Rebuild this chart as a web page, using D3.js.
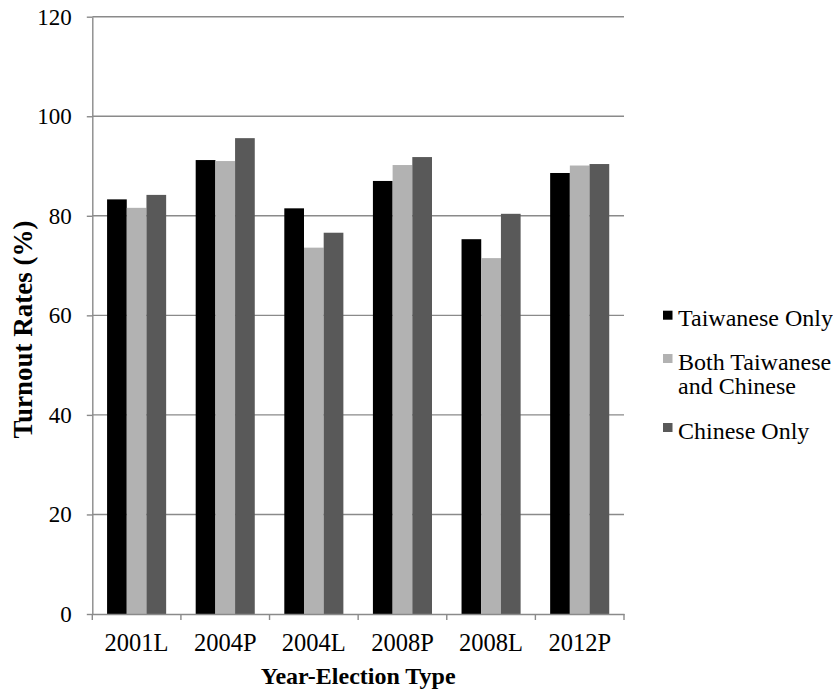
<!DOCTYPE html>
<html>
<head>
<meta charset="utf-8">
<script src="https://cdn.jsdelivr.net/npm/d3@7"></script>
<style>
  html, body { margin: 0; padding: 0; background: #ffffff; }
  svg { display: block; }
  text { font-family: "Liberation Serif", "Times New Roman", serif; fill: #000; }
</style>
</head>
<body>
<svg id="chart" width="833" height="689"></svg>
<script>
const categories = ["2001L", "2004P", "2004L", "2008P", "2008L", "2012P"];
const seriesNames = ["Taiwanese Only", "Both Taiwanese and Chinese", "Chinese Only"];
const taiwaneseOnly = [83.3, 91.2, 81.5, 87.0, 75.3, 88.6];
const bothTaiwaneseChinese = [81.6, 91.0, 73.6, 90.2, 71.5, 90.1];
const chineseOnly = [84.2, 95.6, 76.6, 91.8, 80.4, 90.4];
const yTicks = [0, 20, 40, 60, 80, 100, 120];
const colors = ["#000000", "#b2b2b2", "#595959"];
const legendLines = [["Taiwanese Only"], ["Both Taiwanese", "and Chinese"], ["Chinese Only"]];

const seriesValues = [taiwaneseOnly, bothTaiwaneseChinese, chineseOnly];

const svg = d3.select("#chart");
const mLeft = 92.3, mRight = 624, mTop = 16.7, mBottom = 614;
const axisColor = "#8a8a8a";

const y = d3.scaleLinear().domain([0, 120]).range([mBottom, mTop]);
const x0 = d3.scaleBand().domain(categories).range([mLeft, mRight]).padding(0);
const x1 = d3.scaleBand().domain(d3.range(seriesNames.length)).range([0, x0.bandwidth()]).paddingInner(0).paddingOuter(0.75);

// gridlines
svg.append("g").selectAll("line").data(yTicks.filter(d => d > 0)).join("line")
  .attr("x1", mLeft).attr("x2", mRight)
  .attr("y1", d => y(d)).attr("y2", d => y(d))
  .attr("stroke", axisColor).attr("stroke-width", 1.4);

// bars
const groups = svg.append("g").selectAll("g").data(categories).join("g")
  .attr("transform", d => `translate(${x0(d)},0)`);
groups.selectAll("rect").data((c, ci) => seriesValues.map((vals, si) => ({si, v: vals[ci]}))).join("rect")
  .attr("x", d => x1(d.si))
  .attr("width", x1.bandwidth())
  .attr("y", d => y(d.v))
  .attr("height", d => y(0) - y(d.v))
  .attr("fill", d => colors[d.si]);

// y axis
const yAxis = d3.axisLeft(y).tickValues(yTicks).tickSize(5.5).tickPadding(15).tickSizeOuter(0);
const yg = svg.append("g").attr("transform", `translate(${mLeft},0)`).call(yAxis);
yg.select(".domain").attr("stroke", axisColor).attr("stroke-width", 1.4);
yg.selectAll(".tick line").attr("stroke", axisColor).attr("stroke-width", 1.4);
yg.selectAll(".tick text").attr("font-family", "Liberation Serif").attr("font-size", 23).attr("fill", "#000");

// x axis
const xAxis = d3.axisBottom(x0).tickSize(0).tickPadding(0);
const xg = svg.append("g").attr("transform", `translate(0,${mBottom})`).call(xAxis);
xg.select(".domain").attr("stroke", axisColor).attr("stroke-width", 1.4);
xg.selectAll(".tick text").attr("font-family", "Liberation Serif").attr("font-size", 24.5)
  .attr("fill", "#000").attr("dy", null).attr("y", 37);
// boundary ticks
const boundaries = categories.map(c => x0(c)).concat([mRight]);
xg.append("g").selectAll("line").data(boundaries).join("line")
  .attr("x1", d => d).attr("x2", d => d).attr("y1", 0).attr("y2", 6)
  .attr("stroke", axisColor).attr("stroke-width", 1.4);

// axis titles
svg.append("text").attr("x", (mLeft + mRight) / 2).attr("y", 683.5)
  .attr("text-anchor", "middle").attr("font-weight", "bold").attr("font-size", 24)
  .text("Year-Election Type");
svg.append("text").attr("transform", "translate(31.5,329.5) rotate(-90)")
  .attr("text-anchor", "middle").attr("font-weight", "bold").attr("font-size", 27)
  .text("Turnout Rates (%)");

// legend
const legendY = [310.7, 354, 423];
const lg = svg.append("g");
legendLines.forEach((lines, i) => {
  lg.append("rect").attr("x", 663).attr("y", legendY[i]).attr("width", 9.5).attr("height", 9)
    .attr("fill", colors[i]);
  lines.forEach((t, j) => {
    lg.append("text").attr("x", 678).attr("y", legendY[i] + 15.5 + j * 24.5)
      .attr("font-size", 24).text(t);
  });
});
</script>
</body>
</html>
